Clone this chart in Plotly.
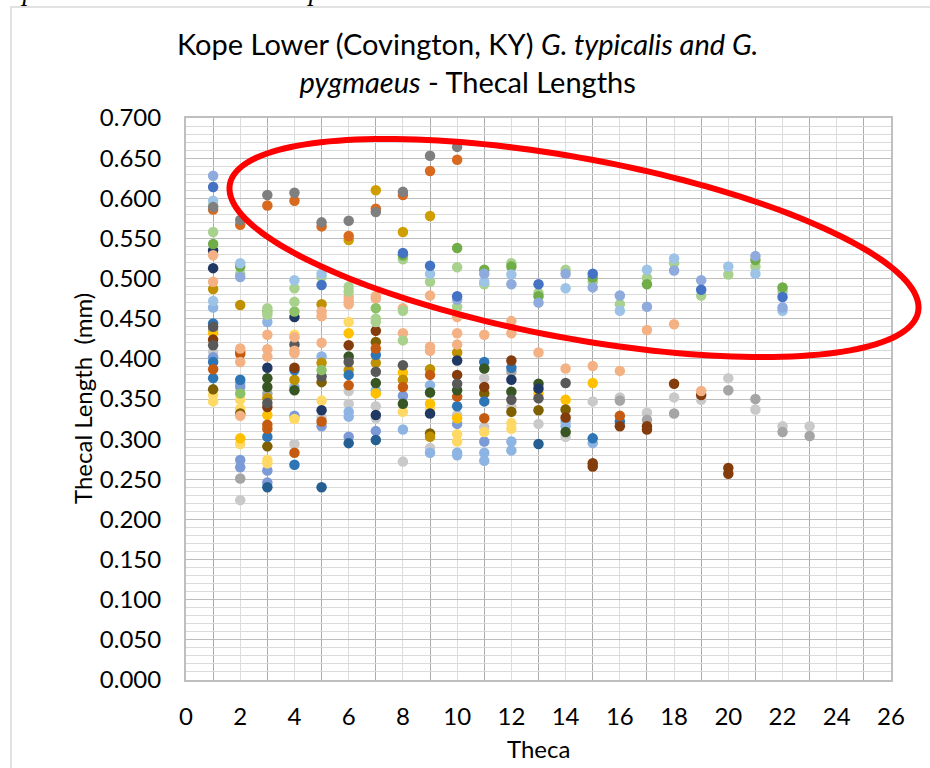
import numpy as np
import plotly.graph_objects as go

# ---------------- data (theca number, thecal length in mm), grouped by marker colour ----------------
gray_top_theca = [1, 2, 3, 4, 5, 6, 7, 8, 9, 10]
gray_top_len = [0.589, 0.573, 0.604, 0.607, 0.570, 0.572, 0.583, 0.608, 0.653, 0.664]

orange_top_theca = [1, 2, 3, 4, 5, 6, 7, 8, 9, 10]
orange_top_len = [0.586, 0.567, 0.591, 0.597, 0.565, 0.553, 0.587, 0.604, 0.634, 0.648]

gold_top_theca = [6, 7, 8, 9]
gold_top_len = [0.548, 0.610, 0.558, 0.578]

blue_theca = [1, 5, 8, 9, 10, 13, 15, 19, 22]
blue_len = [0.614, 0.492, 0.532, 0.516, 0.478, 0.493, 0.506, 0.486, 0.477]

periwinkle_theca = [1, 2, 10, 11, 12, 13, 14, 15, 16, 17, 18, 19, 21, 22]
periwinkle_len = [0.628, 0.502, 0.474, 0.506, 0.493, 0.470, 0.506, 0.489, 0.479, 0.465, 0.510, 0.498, 0.528, 0.464]

light_blue_theca = [1, 1, 2, 4, 5, 9, 11, 12, 14, 16, 17, 18, 20, 21, 22]
light_blue_len = [0.597, 0.472, 0.519, 0.498, 0.506, 0.506, 0.496, 0.505, 0.488, 0.460, 0.511, 0.525, 0.515, 0.506, 0.460]

green_theca = [1, 2, 8, 10, 11, 12, 13, 15, 17, 21, 22]
green_len = [0.543, 0.515, 0.529, 0.538, 0.511, 0.515, 0.478, 0.501, 0.493, 0.523, 0.489]

light_green_theca = [1, 1, 2, 3, 3, 4, 4, 5, 6, 6, 7, 7, 8, 8, 8, 9, 10, 10, 11, 12, 13, 14, 15, 16, 17, 18, 19, 20, 21, 22]
light_green_len = [0.591, 0.558, 0.506, 0.463, 0.455, 0.488, 0.471, 0.502, 0.490, 0.484, 0.450, 0.446, 0.524, 0.460, 0.423,
                   0.496, 0.514, 0.465, 0.493, 0.519, 0.482, 0.511, 0.496, 0.468, 0.501, 0.519, 0.479, 0.505, 0.515, 0.484]

mid_green_theca = [2, 3, 4, 5, 7]
mid_green_len = [0.357, 0.459, 0.459, 0.386, 0.463]

light_orange_theca = [1, 1, 2, 2, 2, 3, 3, 3, 4, 4, 4, 5, 5, 5, 6, 6, 6, 7, 7, 8, 8, 9, 9, 9, 10, 10, 10, 11, 12, 12, 13, 14, 15, 16, 17, 18, 19]
light_orange_len = [0.529, 0.496, 0.413, 0.396, 0.329, 0.430, 0.412, 0.403, 0.427, 0.410, 0.407, 0.459, 0.453, 0.420,
                    0.477, 0.472, 0.468, 0.478, 0.475, 0.463, 0.432, 0.479, 0.415, 0.410, 0.452, 0.432, 0.418, 0.430,
                    0.447, 0.432, 0.408, 0.388, 0.391, 0.385, 0.436, 0.443, 0.360]

navy_theca = [1, 1, 3, 4, 5, 7, 9, 10, 12, 13]
navy_len = [0.535, 0.513, 0.389, 0.452, 0.336, 0.330, 0.332, 0.398, 0.374, 0.363]

brown_theca = [1, 3, 4, 6, 7, 10, 11, 12, 14, 15, 15, 16, 17, 17, 18, 19, 20, 20]
brown_len = [0.424, 0.340, 0.389, 0.417, 0.435, 0.380, 0.365, 0.398, 0.327, 0.270, 0.266, 0.316, 0.316, 0.312, 0.369, 0.355, 0.264, 0.257]

orange_brown_theca = [1, 2, 2, 3, 3, 4, 5, 6, 7, 8, 9, 10, 11, 16]
orange_brown_len = [0.387, 0.409, 0.406, 0.318, 0.313, 0.283, 0.322, 0.367, 0.413, 0.365, 0.380, 0.353, 0.326, 0.329]

mid_blue_theca = [1, 1, 1, 2, 3, 4, 4, 6, 7, 10, 11, 11, 12, 15, 16]
mid_blue_len = [0.444, 0.396, 0.376, 0.374, 0.303, 0.386, 0.268, 0.380, 0.405, 0.341, 0.396, 0.347, 0.389, 0.301, 0.322]

dark_blue_theca = [3, 5, 6, 7, 13]
dark_blue_len = [0.240, 0.240, 0.295, 0.299, 0.294]

dark_green_theca = [3, 3, 4, 6, 7, 8, 9, 10, 11, 12, 13, 14]
dark_green_len = [0.376, 0.365, 0.361, 0.403, 0.370, 0.344, 0.358, 0.361, 0.388, 0.359, 0.369, 0.309]

dark_gray_theca = [1, 1, 3, 4, 5, 6, 7, 8, 10, 12, 13, 14]
dark_gray_len = [0.440, 0.417, 0.345, 0.418, 0.378, 0.396, 0.384, 0.392, 0.369, 0.349, 0.351, 0.370]

light_gray_theca = [1, 2, 4, 5, 6, 6, 7, 7, 8, 9, 10, 11, 11, 12, 13, 14, 15, 16, 17, 18, 19, 20, 21, 22, 23]
light_gray_len = [0.409, 0.224, 0.294, 0.327, 0.360, 0.344, 0.341, 0.326, 0.272, 0.289, 0.330, 0.376, 0.315, 0.340,
                  0.319, 0.303, 0.347, 0.352, 0.333, 0.352, 0.349, 0.376, 0.337, 0.316, 0.316]

gray_theca = [1, 2, 3, 12, 16, 17, 18, 20, 21, 22, 23]
gray_len = [0.436, 0.251, 0.357, 0.384, 0.348, 0.324, 0.332, 0.361, 0.350, 0.309, 0.304]

gold_theca = [1, 2, 3, 6, 7, 8, 9, 10, 13, 14, 15]
gold_len = [0.432, 0.301, 0.330, 0.432, 0.357, 0.383, 0.344, 0.326, 0.357, 0.349, 0.370]

light_gold_theca = [1, 1, 2, 2, 2, 3, 3, 4, 4, 5, 6, 8, 9, 10, 10, 11, 12, 12]
light_gold_len = [0.355, 0.347, 0.349, 0.338, 0.294, 0.274, 0.270, 0.430, 0.325, 0.348, 0.446, 0.334, 0.338, 0.306, 0.297, 0.309, 0.320, 0.313]

olive_theca = [1, 2, 3, 5, 7, 9, 11, 12, 13, 14]
olive_len = [0.362, 0.332, 0.291, 0.371, 0.421, 0.307, 0.357, 0.334, 0.336, 0.337]

dark_gold_theca = [1, 2, 3, 4, 5, 5, 6, 7, 8, 9, 9, 10]
dark_gold_len = [0.487, 0.467, 0.351, 0.374, 0.395, 0.468, 0.386, 0.395, 0.374, 0.387, 0.303, 0.408]

periwinkle_mid_theca = [1, 2, 2, 2, 3, 3, 4, 5, 6, 7, 8, 10, 11]
periwinkle_mid_len = [0.402, 0.365, 0.274, 0.265, 0.261, 0.246, 0.329, 0.316, 0.303, 0.310, 0.354, 0.319, 0.297]

light_blue_mid_theca = [1, 2, 3, 4, 5, 6, 6, 7, 8, 9, 9, 10, 10, 11, 11, 12, 12, 14, 14, 15]
light_blue_mid_len = [0.464, 0.369, 0.446, 0.365, 0.403, 0.334, 0.328, 0.361, 0.312, 0.367, 0.283, 0.283, 0.280,
                      0.283, 0.273, 0.297, 0.286, 0.322, 0.316, 0.295]

x_tick_vals = list(range(0, 27, 2))
y_tick_vals = [round(0.05 * i, 3) for i in range(15)]

# ---------------- series definitions (data, colour) ----------------
series = [
    (light_gray_theca, light_gray_len, "#C9C9C9"),
    (gray_theca, gray_len, "#A5A5A5"),
    (light_blue_mid_theca, light_blue_mid_len, "#8DB4E2"),
    (periwinkle_mid_theca, periwinkle_mid_len, "#7C9BD6"),
    (light_gold_theca, light_gold_len, "#FFD966"),
    (gold_theca, gold_len, "#FFC000"),
    (olive_theca, olive_len, "#7F6000"),
    (dark_gold_theca, dark_gold_len, "#BF9000"),
    (dark_blue_theca, dark_blue_len, "#255E91"),
    (mid_blue_theca, mid_blue_len, "#2E75B6"),
    (orange_brown_theca, orange_brown_len, "#C55A11"),
    (brown_theca, brown_len, "#843C0C"),
    (dark_green_theca, dark_green_len, "#375623"),
    (dark_gray_theca, dark_gray_len, "#595959"),
    (navy_theca, navy_len, "#203864"),
    (light_orange_theca, light_orange_len, "#F4B183"),
    (mid_green_theca, mid_green_len, "#8CC168"),
    (light_green_theca, light_green_len, "#A9D18E"),
    (green_theca, green_len, "#70AD47"),
    (light_blue_theca, light_blue_len, "#9DC3E6"),
    (periwinkle_theca, periwinkle_len, "#8FAADC"),
    (blue_theca, blue_len, "#4472C4"),
    (gold_top_theca, gold_top_len, "#CF9E00"),
    (orange_top_theca, orange_top_len, "#D9691F"),
    (gray_top_theca, gray_top_len, "#7F7F7F"),
]

W, H = 930, 768
L, R, T, B = 186, 891, 118, 680   # plot area in pixels

def px(xp):
    return (xp - L) / (R - L)

def py(yp):
    return (B - yp) / (B - T)

fig = go.Figure()
for xs, ys, col in series:
    fig.add_trace(go.Scatter(x=xs, y=ys, mode="markers",
                             marker=dict(size=10.5, color=col, line=dict(width=0)),
                             showlegend=False, hoverinfo="x+y"))

FONT = "Lato, 'Open Sans', sans-serif"

fig.update_layout(
    width=W, height=H,
    margin=dict(l=L, r=W - R, t=T, b=H - B),
    paper_bgcolor="white", plot_bgcolor="white",
    font=dict(family=FONT, color="#000000"),
    showlegend=False,
)

fig.update_xaxes(
    range=[0, 26], tickmode="array", tickvals=x_tick_vals,
    ticktext=[str(v) for v in x_tick_vals],
    tickfont=dict(size=24, family=FONT, color="#000"),
    showgrid=True, gridcolor="#DDDDDD", gridwidth=1,
    minor=dict(tickmode="array", tickvals=list(range(1, 26, 2)), showgrid=True,
               gridcolor="#ABABAB", gridwidth=1, ticks=""),
    ticks="", ticklabelstandoff=14,
    showline=True, linecolor="#BFBFBF", linewidth=2, mirror=True, zeroline=False,
)
fig.update_yaxes(
    range=[0, 0.7], tickmode="array", tickvals=y_tick_vals,
    ticktext=[f"{v:.3f}" for v in y_tick_vals],
    tickfont=dict(size=24, family=FONT, color="#000"),
    showgrid=True, gridcolor="#BDBDBD", gridwidth=1,
    minor=dict(dtick=0.01, tick0=0, showgrid=True, gridcolor="#DADADA", gridwidth=1, ticks=""),
    ticks="", ticklabelstandoff=18,
    showline=True, linecolor="#BFBFBF", linewidth=2, mirror=True, zeroline=False,
)

# chart-area border (Excel chart frame)
fig.add_shape(type="rect", xref="paper", yref="paper",
              x0=px(11), x1=px(945), y0=py(7), y1=py(790),
              line=dict(color="#D9D9D9", width=1.5), layer="below")

# red hand-drawn ellipse highlight
cx, cy, a, b, th = 574, 248, 350, 90, np.deg2rad(10.5)
t = np.linspace(0, 2 * np.pi, 181)
ex = cx + a * np.cos(th) * np.cos(t) - b * np.sin(th) * np.sin(t)
ey = cy + a * np.sin(th) * np.cos(t) + b * np.cos(th) * np.sin(t)
path = "M " + " L ".join(f"{px(xx):.5f},{py(yy):.5f}" for xx, yy in zip(ex, ey)) + " Z"
fig.add_shape(type="path", xref="paper", yref="paper", path=path,
              line=dict(color="#FF0000", width=6), layer="above")

# title
fig.add_annotation(xref="paper", yref="paper", x=px(467), y=py(62),
                   xanchor="center", yanchor="middle", showarrow=False,
                   text="Kope Lower (Covington, KY) <i>G. typicalis and G.</i><br><i>pygmaeus</i> - Thecal Lengths",
                   font=dict(size=29, family=FONT, color="#000"), align="center")

# axis titles
fig.add_annotation(xref="paper", yref="paper", x=px(538), y=py(748),
                   xanchor="center", yanchor="middle", showarrow=False,
                   text="Theca", font=dict(size=24, family=FONT, color="#000"))
fig.add_annotation(xref="paper", yref="paper", x=px(82), y=py(399),
                   xanchor="center", yanchor="middle", showarrow=False, textangle=-90,
                   text="Thecal Length  (mm)", font=dict(size=24, family=FONT, color="#000"))

# cut-off caption text at the very top of the page
fig.add_annotation(xref="paper", yref="paper", x=px(10), y=py(8),
                   xanchor="left", yanchor="bottom", showarrow=False,
                   text="<i>species occurrences as sampled.</i>",
                   font=dict(size=27, family="'Liberation Serif', 'DejaVu Serif', serif", color="#000"))

fig.write_html("out.html", config={"displayModeBar": False},
               post_script="document.body.style.margin='0';document.body.style.overflow='hidden';")
